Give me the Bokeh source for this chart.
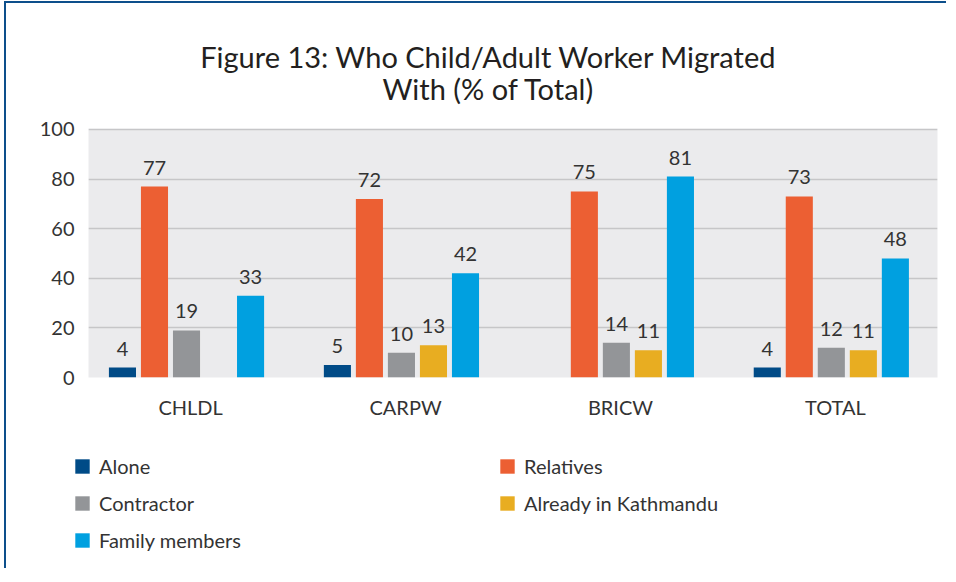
import numpy as np
from bokeh.plotting import figure
from bokeh.layouts import column
from bokeh.models import (ColumnDataSource, FactorRange, Range1d, FixedTicker, Legend,
                          LegendItem, LabelSet)
from bokeh.core.properties import value
from bokeh.transform import dodge
from bokeh.embed import file_html
from bokeh.resources import INLINE

# ---- data ----
title_lines = ["Figure 13: Who Child/Adult Worker Migrated", "With (% of Total)"]
categories = ["CHLDL", "CARPW", "BRICW", "TOTAL"]
series_names = ["Alone", "Relatives", "Contractor", "Already in Kathmandu", "Family members"]
alone = [4, 5, None, 4]
relatives = [77, 72, 75, 73]
contractor = [19, 10, 14, 12]
kathmandu = [None, 13, 11, 11]
family = [33, 42, 81, 48]
y_ticks = [0, 20, 40, 60, 80, 100]

series_values = [alone, relatives, contractor, kathmandu, family]
colors = ["#004b87", "#ec5f33", "#939598", "#e8ad21", "#00a0e0"]
FONT = "Lato"
TXT = "#333333"
W = 940

data = {"cat": categories}
for i, vals in enumerate(series_values):
    data[f"s{i}"] = np.array([np.nan if v is None else float(v) for v in vals])
    data[f"l{i}"] = ["" if v is None else str(v) for v in vals]
src = ColumnDataSource(data)


def bare(fig):
    fig.grid.visible = False
    fig.outline_line_color = None
    fig.background_fill_color = "white"
    fig.border_fill_color = "white"
    fig.frame_align = False


# ---- title strip ----
TH = 111
pt = figure(width=W, height=TH, output_backend="svg", toolbar_location=None,
            x_range=Range1d(0, W), y_range=Range1d(0, TH),
            x_axis_location=None, y_axis_location=None, min_border=0)
bare(pt)
pt.text(x=[482, 482], y=[58, 26], text=title_lines, text_align="center",
        text_baseline="alphabetic", text_font=value(FONT), text_font_size="29px",
        text_color="#231f20")

# ---- main chart ----
p = figure(width=W, height=315, output_backend="svg", toolbar_location=None,
           x_range=FactorRange(factors=categories, range_padding=-0.025,
                               range_padding_units="absolute"),
           y_range=Range1d(0, 100.4),
           min_border_left=82, min_border_right=9, min_border_top=14,
           min_border_bottom=52)
p.background_fill_color = "#ebebed"
p.border_fill_color = "white"
p.outline_line_color = None

offsets = [-0.317, -0.168, -0.019, 0.130, 0.279]
for i, name in enumerate(series_names):
    xd = dodge("cat", offsets[i], range=p.x_range)
    p.vbar(x=xd, top=f"s{i}", width=0.126, source=src, fill_color=colors[i],
           line_color=None)
    lbl = LabelSet(x=xd, y=f"s{i}", text=f"l{i}", source=src, text_align="center",
                   text_baseline="bottom", y_offset=12, text_font=value(FONT),
                   text_font_size=value("20px"), text_color=value(TXT))
    p.add_layout(lbl)

p.yaxis.ticker = FixedTicker(ticks=y_ticks)
for ax in (p.xaxis, p.yaxis):
    ax.axis_line_color = None
    ax.major_tick_line_color = None
    ax.minor_tick_line_color = None
    ax.major_tick_out = 0
    ax.major_tick_in = 0
    ax.major_label_text_font = FONT
    ax.major_label_text_font_size = "20px"
    ax.major_label_text_color = TXT
p.yaxis.major_label_standoff = 14
p.xaxis.major_label_standoff = 17

p.xgrid.grid_line_color = None
p.ygrid.grid_line_color = "#c6c6c8"
p.ygrid.grid_line_width = 1.5

# ---- legend strip ----
LH = 139
pl = figure(width=W, height=LH, output_backend="svg", toolbar_location=None,
            x_range=FactorRange(factors=categories), y_range=Range1d(1000, 1001),
            x_axis_location=None, y_axis_location=None, min_border=0)
bare(pl)
items = []
for i, name in enumerate(series_names):
    r = pl.vbar(x="cat", top=f"s{i}", width=0.126, source=src, fill_color=colors[i],
                line_color=None)
    items.append(LegendItem(label=name, renderers=[r]))
legend = Legend(items=items, location=(67, 16), orientation="horizontal", ncols=2,
                glyph_width=18, glyph_height=18, label_standoff=8, label_width=386,
                label_height=24, spacing=13, padding=0, margin=0,
                label_text_font=FONT, label_text_font_size="20px", label_text_color=TXT,
                border_line_color=None, background_fill_alpha=0)
pl.add_layout(legend, "center")

layout = column(pt, p, pl, spacing=0,
                styles={"border-top": "2px solid #0d4f8b", "border-left": "2px solid #0d4f8b",
                        "margin-left": "4px", "margin-top": "1px"})

open("out.html", "w").write(file_html(layout, INLINE))
